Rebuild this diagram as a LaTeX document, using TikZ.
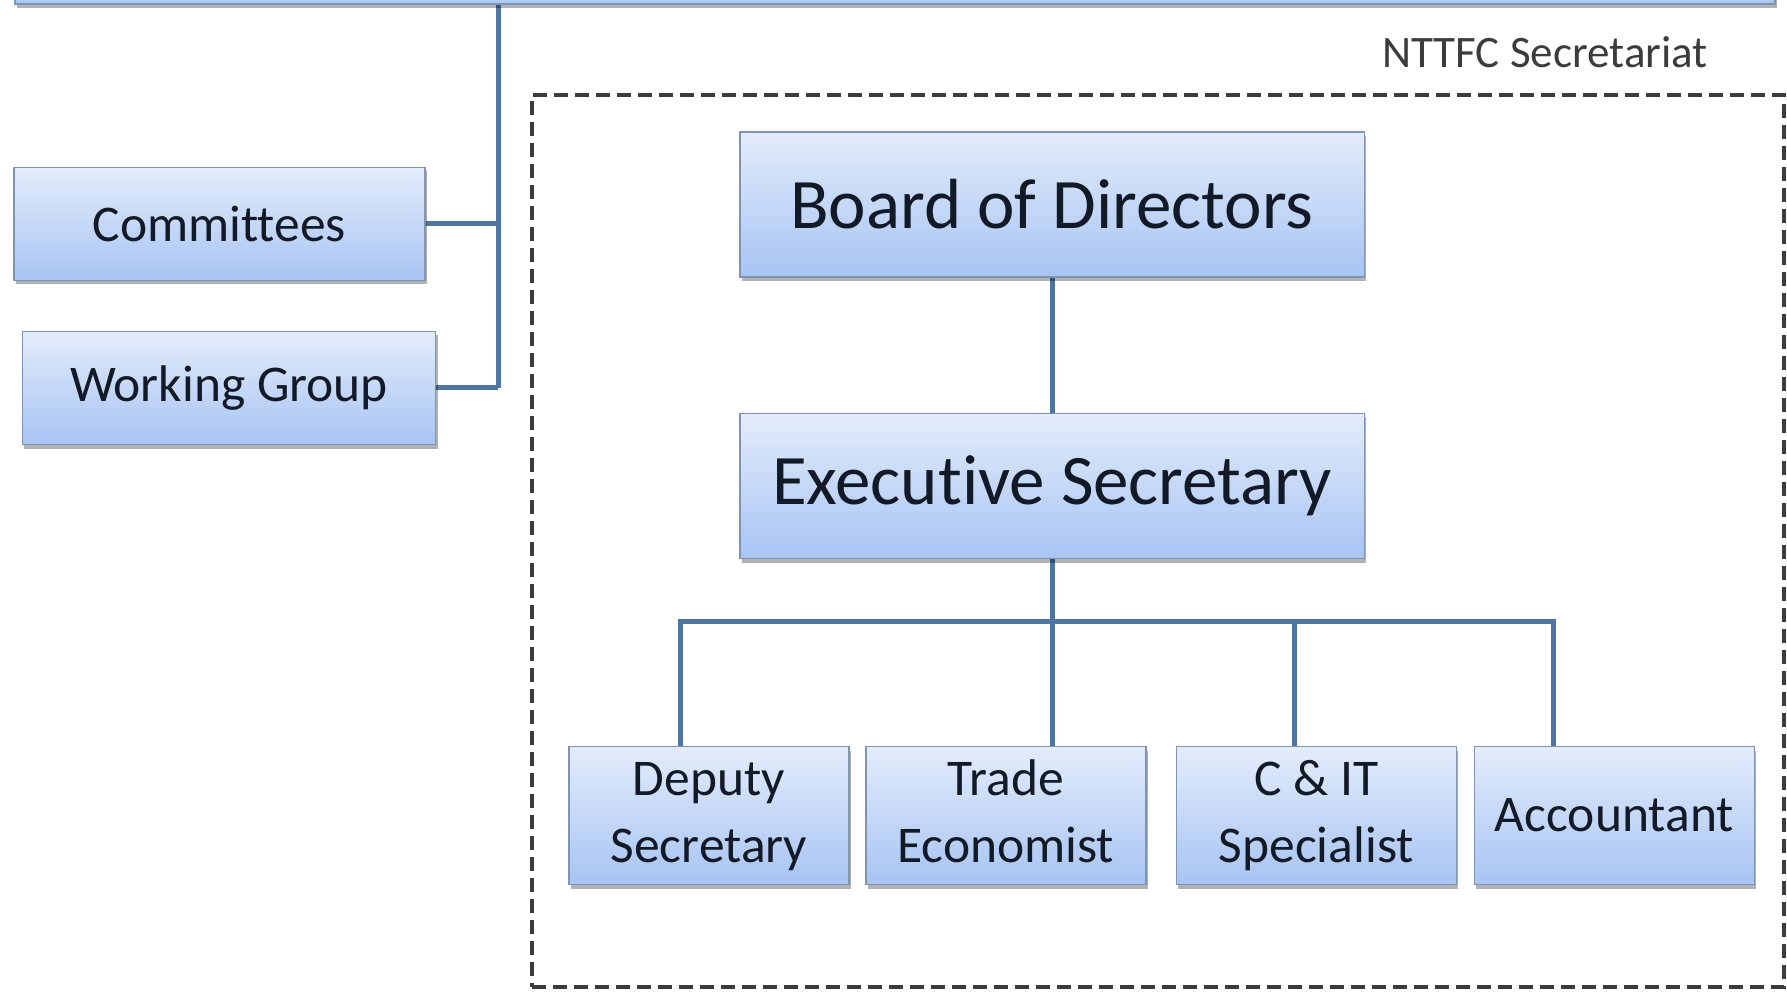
\documentclass[tikz,border=0pt]{standalone}
\usepackage{fontspec}
\setmainfont[Ligatures=NoCommon]{Carlito}
\usetikzlibrary{shadows,backgrounds}
\definecolor{boxtop}{HTML}{E3ECFB}
\definecolor{boxbot}{HTML}{A7C4F3}
\definecolor{boxline}{HTML}{7F93B3}
\definecolor{conn}{HTML}{4F76A3}
\definecolor{txt}{HTML}{121A28}
\definecolor{dashc}{HTML}{3C3C3C}
\begin{document}
\begin{tikzpicture}[x=0.4pt,y=-0.4pt,
  orgbox/.style={draw=boxline, line width=0.6pt, top color=boxtop, bottom color=boxbot,
    text=txt, align=center, inner sep=0pt,
    drop shadow={shadow xshift=0.8pt, shadow yshift=-1.6pt, fill=black, opacity=0.3}},
  bigtext/.style={font=\fontsize{28.4pt}{34pt}\selectfont},
  smalltext/.style={font=\fontsize{20.6pt}{26.8pt}\selectfont},
  conline/.style={draw=conn, line width=2pt},
  secbox/.style={draw=dashc, line width=1.6pt, dash pattern=on 5.6pt off 2.8pt}]
\useasboundingbox (0,0) rectangle (1787,992);

% top (cut-off) box
\node[orgbox, minimum width=704pt, minimum height=13.6pt] (top) at (895,-13) {};

% dashed secretariat frame
\node[secbox, minimum width=500.6pt, minimum height=357pt] (sec) at (1157.8,540.8) {};
\node[text=dashc, font=\fontsize{18pt}{22pt}\selectfont] (seclabel) at (1545,52) {NTTFC Secretariat};

% left boxes
\node[orgbox, smalltext, minimum width=164.4pt, minimum height=45.2pt] (com) at (219.4,224) {Committees};
\node[orgbox, smalltext, minimum width=165.2pt, minimum height=45.2pt] (wg) at (229,388) {Working Group};

% main hierarchy
\node[orgbox, bigtext, minimum width=249.8pt, minimum height=58pt] (board) at (1052,204.6) {Board of Directors};
\node[orgbox, bigtext, minimum width=249.8pt, minimum height=58pt] (exec) at (1052,486) {Executive Secretary};

\node[orgbox, smalltext, minimum width=112pt, minimum height=55.2pt] (dep) at (708.9,815.5) {Deputy\strut\\Secretary\strut};
\node[orgbox, smalltext, minimum width=112pt, minimum height=55.2pt] (trade) at (1005.8,815.5) {Trade\strut\\Economist\strut};
\node[orgbox, smalltext, minimum width=112pt, minimum height=55.2pt] (cit) at (1316.4,815.5) {C \& IT\strut\\Specialist\strut};
\node[orgbox, smalltext, minimum width=112pt, minimum height=55.2pt] (acc) at (1614.4,815.5) {Accountant};

\coordinate (vx) at (498,0);
\coordinate (d1) at (680.4,621);
\coordinate (d3) at (1294.7,621);
\coordinate (d4) at (1553.4,621);

\begin{scope}[on background layer]
  \fill[white] (0,0) rectangle (1787,992);
  \draw[conline] (top.south -| vx) -- (vx |- wg.east);
  \draw[conline] (com.east) -- (com.east -| vx);
  \draw[conline] (wg.east) -- (wg.east -| vx);
  \draw[conline] (board.south) -- (exec.north);
  \draw[conline] (exec.south) -- (trade.north -| exec.south);
  \draw[conline] (d1 |- dep.north) -- (d1) -- (d4) -- (d4 |- acc.north);
  \draw[conline] (d3) -- (d3 |- cit.north);
\end{scope}
\end{tikzpicture}
\end{document}
